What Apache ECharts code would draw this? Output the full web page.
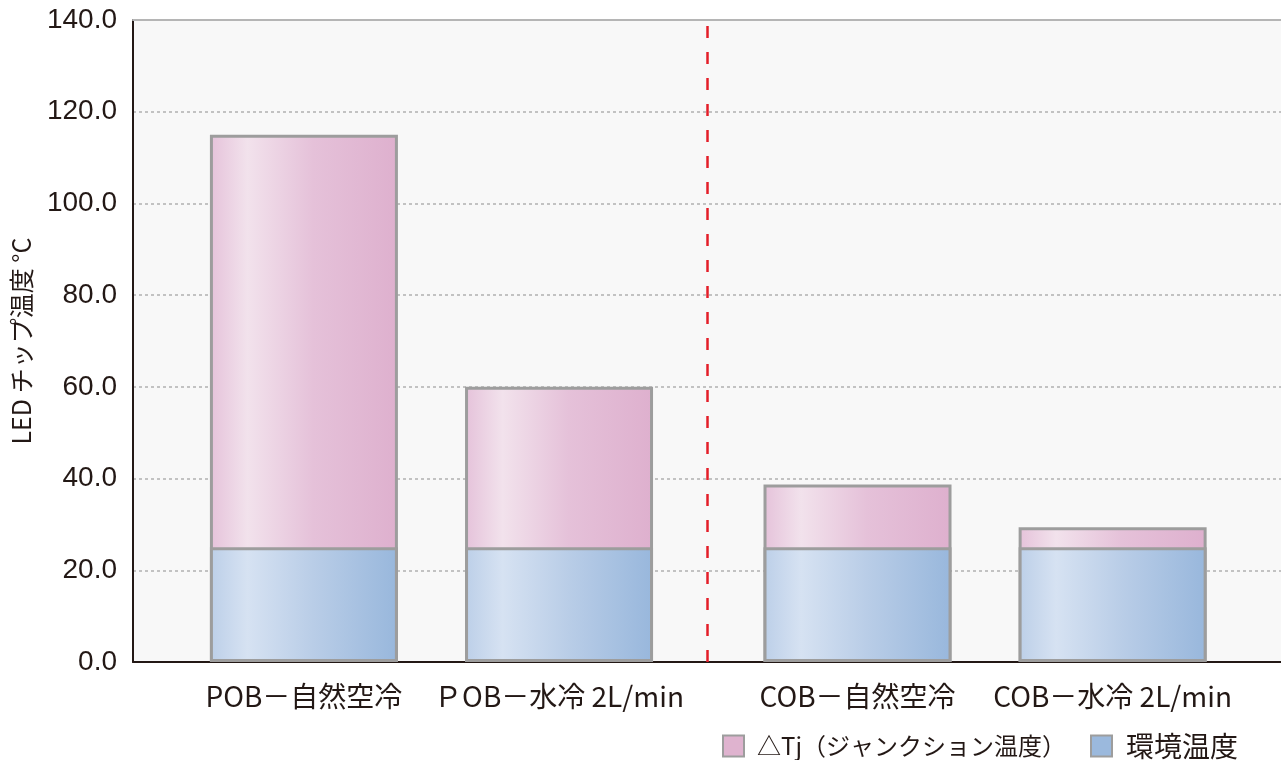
<!DOCTYPE html>
<html>
<head>
<meta charset="utf-8">
<script src="https://cdn.jsdelivr.net/npm/echarts@6/dist/echarts.min.js"></script>
<style>
  html, body { margin: 0; padding: 0; background: #ffffff; }
  #chart { width: 1281px; height: 760px; }
</style>
</head>
<body>
<div id="chart"></div>
<script>
// Four LED configurations, grouped POB | COB, placed along a numeric x scale
const categories = ['POB－自然空冷', 'ＰOB－水冷 2L/min', 'COB－自然空冷', 'COB－水冷 2L/min'];
const slotPositions = [0.67, 1.67, 2.84, 3.84];
const groupDivider = 2.25;

// Temperatures (°C)
const ambientTemp = [25, 25, 25, 25];
const deltaTj = [90, 35, 13.7, 4.4];

const yTicks = { min: 0, max: 140, interval: 20 };
const seriesNames = ['△Tj（ジャンクション温度）', '環境温度'];

// Junction temperature = ambient + ΔTj (full bar height)
const junctionTemp = ambientTemp.map((a, i) => a + deltaTj[i]);

const jpFont = "'Noto Sans CJK JP', 'Noto Sans', sans-serif";
const numFont = "'Liberation Sans', Arial, sans-serif";
const textColor = '#231815';
const edgeGray = '#9d9d9d';

const pinkFill = new echarts.graphic.LinearGradient(0, 0, 1, 0, [
  { offset: 0, color: '#e5c2da' },
  { offset: 0.2, color: '#f2e2ec' },
  { offset: 0.55, color: '#e5c1d9' },
  { offset: 1, color: '#deb0ce' }
]);
const blueFill = new echarts.graphic.LinearGradient(0, 0, 1, 0, [
  { offset: 0, color: '#bccfe8' },
  { offset: 0.2, color: '#d6e2f2' },
  { offset: 0.55, color: '#b9cde7' },
  { offset: 1, color: '#98b7dc' }
]);

const chart = echarts.init(document.getElementById('chart'), null, { renderer: 'canvas' });

const pairs = (vals) => vals.map((v, i) => [slotPositions[i], v]);

const legendBase = {
  bottom: 0, padding: 0, itemWidth: 21, itemHeight: 21, icon: 'rect',
  selectedMode: false
};

chart.setOption({
  animation: false,
  backgroundColor: '#ffffff',
  grid: {
    left: 133, right: 0, top: 20, bottom: 98,
    show: true, backgroundColor: '#f8f8f8', borderWidth: 0
  },
  legend: [
    Object.assign({}, legendBase, {
      left: 722,
      textStyle: { fontFamily: jpFont, fontSize: 24, lineHeight: 28, color: textColor, padding: [0, 0, 0, 8] },
      data: [{ name: seriesNames[0], itemStyle: { color: '#dfb3cf', borderColor: edgeGray, borderWidth: 2 } }]
    }),
    Object.assign({}, legendBase, {
      left: 1090,
      textStyle: { fontFamily: jpFont, fontSize: 28, lineHeight: 28, color: textColor, padding: [0, 0, 0, 9] },
      data: [{ name: seriesNames[1], itemStyle: { color: '#9bb9dd', borderColor: edgeGray, borderWidth: 2 } }]
    })
  ],
  xAxis: [
    {
      type: 'value', position: 'bottom', min: 0, max: 4.5,
      axisLine: { show: true, lineStyle: { color: textColor, width: 2 } },
      axisTick: { show: false },
      splitLine: { show: false },
      axisLabel: {
        customValues: slotPositions,
        formatter: (v) => {
          const i = slotPositions.findIndex(p => Math.abs(p - v) < 1e-6);
          return i >= 0 ? categories[i] : '';
        },
        margin: 20, fontFamily: jpFont, fontSize: 28, color: textColor
      }
    },
    {
      type: 'value', position: 'top', min: 0, max: 4.5,
      axisLine: { show: true, lineStyle: { color: '#b5b5b5', width: 2 } },
      axisTick: { show: false }, axisLabel: { show: false }, splitLine: { show: false }
    }
  ],
  yAxis: {
    type: 'value', min: yTicks.min, max: yTicks.max, interval: yTicks.interval,
    name: 'LED チップ温度 °C',
    nameLocation: 'middle', nameGap: 99, nameRotate: 90,
    nameTextStyle: { fontFamily: jpFont, fontSize: 25, color: textColor },
    axisLine: { show: true, lineStyle: { color: textColor, width: 2 } },
    axisTick: { show: false },
    axisLabel: {
      formatter: (v) => v.toFixed(1), margin: 16,
      fontFamily: numFont, fontSize: 28, color: textColor
    },
    splitLine: {
      show: true,
      lineStyle: { color: '#b0b0b0', width: 1.5, type: [3, 3] }
    }
  },
  series: [
    {
      name: seriesNames[0], type: 'bar', barWidth: 188, barGap: '-100%',
      data: pairs(junctionTemp),
      itemStyle: { color: pinkFill, borderColor: edgeGray, borderWidth: 3 },
      markLine: {
        symbol: 'none', silent: true, label: { show: false },
        lineStyle: { color: '#e31e28', width: 2.5, type: [12, 14] },
        data: [{ xAxis: groupDivider }]
      }
    },
    {
      name: seriesNames[1], type: 'bar', barWidth: 188, barGap: '-100%',
      data: pairs(ambientTemp),
      itemStyle: { color: blueFill, borderColor: edgeGray, borderWidth: 3 }
    }
  ]
});
</script>
</body>
</html>
